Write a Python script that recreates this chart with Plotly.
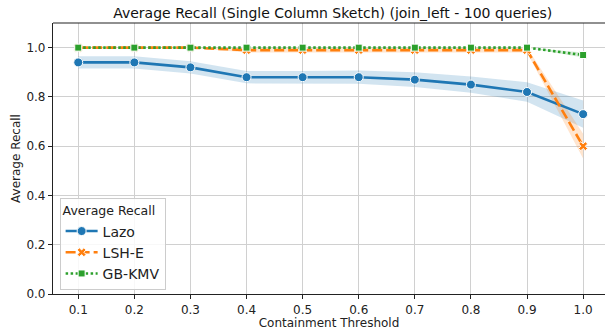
import plotly.graph_objects as go

# Containment thresholds swept in the experiment
thresholds = [0.1, 0.2, 0.3, 0.4, 0.5, 0.6, 0.7, 0.8, 0.9, 1.0]

# Mean recall per method
lazo_recall = [0.94, 0.94, 0.92, 0.88, 0.88, 0.88, 0.87, 0.85, 0.82, 0.73]
lshe_recall = [1.00, 1.00, 1.00, 0.99, 0.99, 0.99, 0.99, 0.99, 0.99, 0.60]
gbkmv_recall = [1.00, 1.00, 1.00, 1.00, 1.00, 1.00, 1.00, 1.00, 1.00, 0.97]

# Half-width of the 95% confidence interval
lazo_ci = [0.025, 0.025, 0.025, 0.025, 0.025, 0.027, 0.03, 0.033, 0.04, 0.055]
lshe_ci = [0.0, 0.0, 0.0, 0.01, 0.01, 0.01, 0.01, 0.01, 0.01, 0.05]
gbkmv_ci = [0.0, 0.0, 0.0, 0.0, 0.0, 0.0, 0.0, 0.0, 0.0, 0.01]

series = [
    ("Lazo", lazo_recall, lazo_ci, "#1f77b4", "rgba(31,119,180,0.2)",
     "solid", "circle", 9),
    ("LSH-E", lshe_recall, lshe_ci, "#ff7f0e", "rgba(255,127,14,0.2)",
     "10px,4px", "x", 8),
    ("GB-KMV", gbkmv_recall, gbkmv_ci, "#2ca02c", "rgba(44,160,44,0.2)",
     "2.5px,2.5px", "square", 7),
]

fig = go.Figure()

# Confidence bands first so the lines sit on top
for name, mean, ci, color, fill, dash, symbol, msize in series:
    upper = [m + c for m, c in zip(mean, ci)]
    lower = [m - c for m, c in zip(mean, ci)]
    fig.add_trace(go.Scatter(
        x=thresholds + thresholds[::-1],
        y=upper + lower[::-1],
        fill="toself", fillcolor=fill,
        line=dict(width=0), mode="lines",
        hoverinfo="skip", showlegend=False,
    ))

for name, mean, ci, color, fill, dash, symbol, msize in series:
    fig.add_trace(go.Scatter(
        x=thresholds, y=mean, name=name,
        mode="lines+markers",
        line=dict(color=color, width=2.6, dash=dash),
        marker=dict(symbol=symbol, size=msize, color=color,
                    line=dict(color="white", width=1)),
    ))

axis_common = dict(
    showgrid=True, gridcolor="#d0d0d0", gridwidth=1,
    showline=True, linecolor="#222222", linewidth=1.2,
    ticks="outside", ticklen=4, tickcolor="#222222",
    tickfont=dict(size=12, color="#222222"),
    zeroline=False,
)

fig.update_layout(
    width=605, height=333,
    margin=dict(l=53, r=0, t=23, b=39),
    paper_bgcolor="white", plot_bgcolor="white",
    font=dict(family="DejaVu Sans", color="#222222"),
    title=dict(
        text="Average Recall (Single Column Sketch) (join_left - 100 queries)",
        x=0.55, xanchor="center", y=0.962, yanchor="middle",
        font=dict(size=14, color="#111111"),
    ),
    xaxis=dict(
        range=[0.055, 1.039],
        tickvals=thresholds,
        ticktext=[f"{t:.1f}" for t in thresholds],
        title=dict(text="Containment Threshold", font=dict(size=12), standoff=2),
        mirror=False,
        **axis_common,
    ),
    yaxis=dict(
        range=[0, 1.1],
        tickvals=[0.0, 0.2, 0.4, 0.6, 0.8, 1.0],
        ticktext=["0.0", "0.2", "0.4", "0.6", "0.8", "1.0"],
        title=dict(text="Average Recall", font=dict(size=12), standoff=3),
        **axis_common,
    ),
    legend=dict(
        title=dict(text="Average Recall", font=dict(size=12.5), side="top"),
        x=0.012, y=0.014, xanchor="left", yanchor="bottom",
        bgcolor="rgba(255,255,255,0.85)", bordercolor="#cccccc", borderwidth=1,
        font=dict(size=14), tracegroupgap=0, itemwidth=32,
    ),
)

# Top spine as a separate line (no right spine)
fig.add_shape(type="line", xref="paper", yref="paper",
              x0=0, x1=1, y0=1, y1=1,
              line=dict(color="#222222", width=1.2))

fig.write_html("out.html")
